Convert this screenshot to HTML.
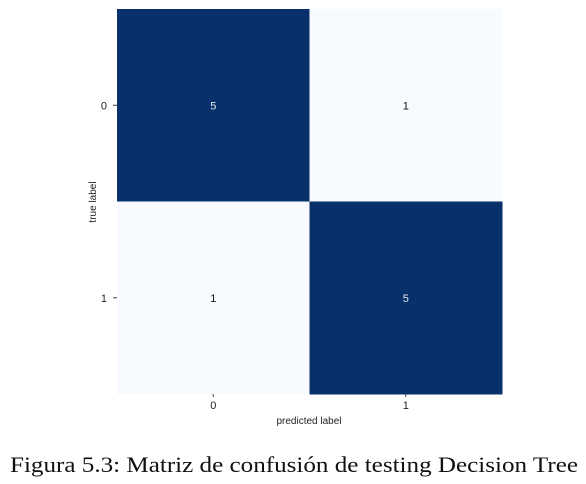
<!DOCTYPE html>
<html><head><meta charset="utf-8"><style>
body{margin:0;background:#fff;width:586px;height:484px;overflow:hidden}
svg{display:block}
</style></head><body>
<svg width="586" height="484">
<g id="cells"></g>
<text x="10" y="472" textLength="568" lengthAdjust="spacingAndGlyphs" font-family="Liberation Serif, serif" font-size="22" fill="#111">Figura 5.3: Matriz de confusión de testing Decision Tree</text>
<text x="309" y="424" text-anchor="middle" font-family="Liberation Sans, sans-serif" font-size="10" fill="#222">predicted label</text>
<text transform="translate(96,202) rotate(-90)" text-anchor="middle" font-family="Liberation Sans, sans-serif" font-size="10" fill="#222">true label</text>
</svg>
<script>
const categories=["0","1"];
const values=[[5,1],[1,5]];
const x0=117,y0=9,size=385;
const n=categories.length, cw=size/n;
const g=document.getElementById('cells');
const NS='http://www.w3.org/2000/svg';
const vmax=Math.max(...values.flat()), vmin=Math.min(...values.flat());
function color(v){const t=(v-vmin)/((vmax-vmin)||1);
 const a=[247,251,255],b=[8,48,107];return `rgb(${a.map((c,i)=>Math.round(c+(b[i]-c)*t)).join(',')})`;}
function xs(i){return x0+i*cw;} function ys(i){return y0+i*cw;}
for(let r=0;r<n;r++)for(let c=0;c<n;c++){
 const v=values[r][c];const t=(v-vmin)/((vmax-vmin)||1);
 const rect=document.createElementNS(NS,'rect');
 rect.setAttribute('x',xs(c));rect.setAttribute('y',ys(r));rect.setAttribute('width',cw+0.5);rect.setAttribute('height',cw+0.5);rect.setAttribute('fill',color(v));
 
 
 g.appendChild(rect);
 const tx=document.createElementNS(NS,'text');
 tx.setAttribute('x',xs(c)+cw/2);tx.setAttribute('y',ys(r)+cw/2+4);tx.setAttribute('text-anchor','middle');
 tx.setAttribute('font-family','Liberation Sans, sans-serif');tx.setAttribute('font-size','11');
 tx.setAttribute('fill',t>0.5?'#e8e8e8':'#111');tx.textContent=v;
 
 
 g.appendChild(tx);
}
for(let i=0;i<n;i++){
 const xt=document.createElementNS(NS,'text');
 xt.setAttribute('x',xs(i)+cw/2);xt.setAttribute('y',y0+size+15);xt.setAttribute('text-anchor','middle');
 xt.setAttribute('font-family','Liberation Sans, sans-serif');xt.setAttribute('font-size','11');xt.setAttribute('fill','#222');xt.textContent=categories[i];
 
 
 g.appendChild(xt);
 const xl=document.createElementNS(NS,'line');
 xl.setAttribute('x1',xs(i)+cw/2);xl.setAttribute('x2',xs(i)+cw/2);xl.setAttribute('y1',y0+size);xl.setAttribute('y2',y0+size+3);xl.setAttribute('stroke','#444');
 
 
 g.appendChild(xl);
 const yt=document.createElementNS(NS,'text');
 yt.setAttribute('x',x0-10);yt.setAttribute('y',ys(i)+cw/2+4);yt.setAttribute('text-anchor','end');
 yt.setAttribute('font-family','Liberation Sans, sans-serif');yt.setAttribute('font-size','11');yt.setAttribute('fill','#222');yt.textContent=categories[i];
 
 
 g.appendChild(yt);
 const yl=document.createElementNS(NS,'line');
 yl.setAttribute('x1',x0-4);yl.setAttribute('x2',x0);yl.setAttribute('y1',ys(i)+cw/2);yl.setAttribute('y2',ys(i)+cw/2);yl.setAttribute('stroke','#444');
 
 
 g.appendChild(yl);
}
</script>
</body></html>
